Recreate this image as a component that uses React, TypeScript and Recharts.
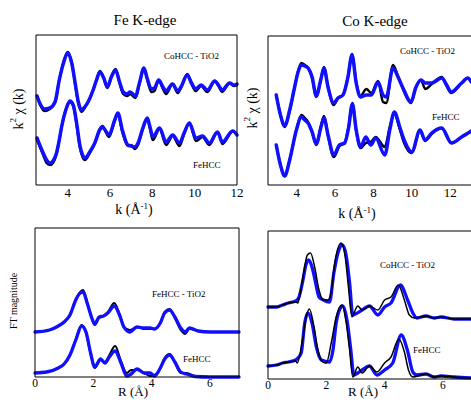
import React from "react";
import { LineChart, Line, XAxis, YAxis } from "recharts";

const FONT = "'Liberation Serif', 'Times New Roman', serif";
const BLUE = "#1010ff";

// ---- Fe K-edge, k^2 chi(k) (blue = data, black = fit)
const feTopK = [2.55, 2.7, 2.9, 3.15, 3.4, 3.6, 3.8, 4.0, 4.2, 4.35, 4.5, 4.65, 4.8, 4.96, 5.2, 5.36, 5.52, 5.7, 5.87, 6.06, 6.26, 6.45, 6.62, 6.8, 6.95, 7.2, 7.4, 7.6, 7.75, 7.95, 8.1, 8.3, 8.5, 8.65, 8.95, 9.2, 9.35, 9.65, 9.85, 10.05, 10.3, 10.6, 10.95, 11.15, 11.3, 11.65, 11.85, 12.0];
const feTopData = [8.9, 8.1, 7.6, 7.7, 8.3, 10.5, 12.2, 13.2, 12.1, 10.2, 8.3, 7.5, 7.8, 8.3, 9.5, 10.5, 11.3, 10.7, 9.8, 10.8, 11.5, 10.3, 9.3, 9.1, 9.3, 8.9, 10.3, 11.7, 10.7, 9.6, 9.7, 10.5, 9.8, 9.4, 10.1, 9.4, 9.8, 11.0, 10.2, 9.6, 10.0, 9.5, 10.4, 9.9, 9.5, 10.2, 10.0, 10.1];
const feTopFit = [8.9, 8.0, 7.4, 7.6, 8.3, 10.5, 12.3, 13.3, 12.1, 10.1, 8.2, 7.3, 7.7, 8.3, 9.5, 10.5, 11.4, 10.7, 9.7, 10.8, 11.6, 10.2, 9.1, 8.9, 9.1, 8.7, 10.2, 11.7, 10.6, 9.3, 9.4, 10.5, 9.6, 9.1, 10.1, 9.2, 9.7, 11.1, 10.1, 9.4, 9.9, 9.3, 10.4, 9.8, 9.3, 10.2, 9.9, 10.0];

const feLowK = [2.55, 2.84, 3.0, 3.16, 3.3, 3.47, 3.6, 3.71, 3.94, 4.1, 4.26, 4.42, 4.57, 4.7, 4.81, 5.04, 5.28, 5.51, 5.64, 5.8, 5.95, 6.22, 6.37, 6.58, 6.84, 7.0, 7.16, 7.32, 7.55, 7.76, 7.9, 8.02, 8.34, 8.65, 8.96, 9.28, 9.5, 9.75, 10.06, 10.37, 10.69, 11.08, 11.31, 11.8, 12.0];
const feLowData = [4.7, 3.2, 2.5, 2.2, 2.4, 3.2, 4.5, 5.8, 7.7, 8.4, 8.0, 6.2, 4.0, 3.0, 2.7, 3.3, 4.2, 5.5, 5.8, 5.4, 5.0, 6.5, 7.2, 5.5, 4.0, 3.9, 3.8, 4.2, 5.7, 6.7, 5.7, 4.8, 5.7, 4.3, 5.0, 4.2, 5.2, 6.2, 4.7, 4.9, 4.2, 5.3, 4.3, 5.4, 5.0];
const feLowFit = [4.5, 3.0, 2.2, 2.0, 2.2, 3.1, 4.5, 5.8, 7.7, 8.3, 7.9, 6.0, 3.8, 2.8, 2.5, 3.2, 4.2, 5.6, 5.9, 5.3, 4.8, 6.4, 7.1, 5.3, 3.9, 4.0, 3.6, 4.0, 5.6, 6.6, 5.5, 4.5, 5.6, 4.0, 4.9, 3.9, 5.1, 6.2, 4.4, 4.8, 4.0, 5.3, 4.1, 5.4, 5.0];

// ---- Co K-edge, k^2 chi(k)
const coTopK = [2.93, 3.15, 3.37, 3.63, 3.89, 4.07, 4.24, 4.42, 4.59, 4.8, 5.02, 5.25, 5.42, 5.63, 5.93, 6.15, 6.41, 6.67, 6.88, 7.1, 7.32, 7.63, 7.89, 8.24, 8.5, 8.67, 9.02, 9.28, 9.54, 9.96, 10.2, 10.48, 10.7, 11.04, 11.56, 11.82, 12.05, 12.6, 12.92, 13.1];
const coTopData = [9.0, 7.0, 5.9, 7.5, 9.8, 11.3, 12.0, 11.9, 11.7, 10.8, 8.9, 10.5, 11.7, 9.8, 8.2, 8.7, 9.0, 10.8, 13.0, 10.2, 8.8, 9.0, 9.0, 10.3, 9.0, 8.8, 11.7, 10.8, 9.7, 8.3, 9.7, 10.5, 10.2, 10.2, 10.7, 10.0, 9.3, 10.2, 10.7, 10.3];
const coTopFit = [9.0, 7.0, 5.8, 7.4, 9.8, 11.4, 12.2, 12.0, 11.7, 10.7, 8.8, 10.5, 11.8, 9.8, 8.0, 8.7, 9.0, 10.8, 13.1, 10.3, 8.9, 9.6, 9.2, 10.4, 8.3, 8.2, 12.0, 10.9, 9.6, 8.2, 9.7, 10.5, 9.6, 10.1, 10.8, 9.9, 9.2, 10.2, 10.7, 10.3];

const coLowK = [2.93, 3.15, 3.37, 3.63, 3.98, 4.24, 4.42, 4.59, 4.8, 5.02, 5.25, 5.42, 5.63, 5.93, 6.23, 6.5, 6.7, 6.9, 7.1, 7.33, 7.6, 7.86, 8.12, 8.59, 8.85, 9.09, 9.37, 9.6, 10.0, 10.43, 10.69, 11.04, 11.56, 12.07, 12.6, 13.1];
const coLowData = [4.0, 2.0, 0.9, 2.5, 5.5, 6.8, 6.5, 6.2, 5.3, 4.1, 5.7, 6.7, 5.0, 3.0, 4.0, 4.2, 5.7, 8.1, 5.5, 3.8, 4.8, 4.0, 4.7, 3.0, 5.5, 7.3, 5.8, 4.5, 3.3, 5.5, 4.5, 5.2, 5.7, 4.2, 4.8, 5.4];
const coLowFit = [4.0, 2.0, 0.9, 2.5, 5.5, 7.0, 6.7, 6.3, 5.3, 4.0, 5.8, 6.9, 5.0, 2.8, 3.9, 4.2, 5.8, 8.2, 5.4, 3.7, 4.2, 4.3, 4.8, 3.8, 5.8, 7.1, 5.6, 4.2, 3.2, 5.5, 4.4, 5.1, 5.7, 4.2, 4.8, 5.4];

// ---- Fe FT magnitude
const feFtTopR = [0, 0.5, 0.8, 1.0, 1.2, 1.4, 1.55, 1.65, 1.8, 1.95, 2.05, 2.2, 2.35, 2.5, 2.72, 2.9, 3.05, 3.25, 3.5, 3.75, 3.95, 4.1, 4.3, 4.45, 4.62, 4.8, 5.0, 5.15, 5.3, 5.6, 6.0, 6.5, 7.0];
const feFtTopData = [4.5, 4.7, 5.1, 5.5, 6.2, 7.7, 8.4, 8.5, 7.3, 5.9, 5.3, 6.0, 6.1, 6.4, 7.1, 6.2, 5.0, 4.5, 5.0, 4.9, 4.9, 4.8, 5.4, 6.4, 6.7, 6.0, 4.9, 4.5, 4.9, 4.6, 4.5, 4.5, 4.5];
const feFtTopFit = [4.5, 4.7, 5.1, 5.5, 6.2, 7.8, 8.5, 8.7, 7.4, 5.8, 5.2, 5.9, 6.1, 6.5, 7.4, 6.3, 5.0, 4.7, 5.0, 4.8, 4.8, 4.8, 5.4, 6.5, 6.8, 5.9, 4.7, 4.3, 4.8, 4.6, 4.5, 4.5, 4.5];

const feFtLowR = [0, 0.4, 0.8, 1.0, 1.2, 1.4, 1.6, 1.75, 1.9, 2.05, 2.25, 2.4, 2.55, 2.75, 2.95, 3.15, 3.3, 3.5, 3.75, 3.95, 4.1, 4.3, 4.45, 4.62, 4.8, 5.0, 5.2, 5.5, 6.0, 7.0];
const feFtLowData = [0.4, 0.5, 0.9, 1.3, 2.2, 3.7, 5.1, 4.5, 2.5, 1.0, 1.8, 1.4, 2.0, 2.6, 1.4, 0.1, 0.3, 0.8, 0.4, 0.4, 0.1, 0.9, 1.8, 2.2, 1.5, 0.5, 0.3, 0.05, 0, 0];
const feFtLowFit = [0.4, 0.5, 0.9, 1.3, 2.2, 3.8, 5.2, 4.4, 2.4, 0.9, 1.7, 1.5, 2.2, 3.1, 1.6, 0.4, 0.7, 0.7, 0.4, 0.1, 0.2, 0.9, 1.9, 2.3, 1.4, 0.4, 0.4, 0.1, 0, 0];

// ---- Co FT magnitude (data and fit sampled separately, they are shifted)
const coFtTopR = [0, 0.3, 0.5, 0.7, 0.95, 1.05, 1.2, 1.3, 1.39, 1.5, 1.6, 1.75, 1.9, 2.11, 2.26, 2.4, 2.55, 2.68, 2.8, 2.91, 3.0, 3.23, 3.48, 3.77, 4.0, 4.22, 4.54, 4.79, 4.97, 5.11, 5.42, 5.7, 5.94, 6.39, 7.0];
const coFtTopData = [7.2, 7.2, 7.4, 7.6, 7.8, 8.1, 9.9, 11.4, 11.9, 11.3, 10.1, 8.2, 7.9, 7.7, 10.6, 12.6, 13.4, 12.4, 9.6, 6.4, 6.5, 6.9, 7.3, 6.4, 7.2, 7.6, 9.4, 7.9, 6.6, 6.1, 6.3, 6.1, 6.2, 6.0, 6.0];
const coFtTopFitR = [0, 0.3, 0.5, 0.7, 0.95, 1.02, 1.1, 1.2, 1.35, 1.46, 1.6, 1.75, 1.9, 2.05, 2.17, 2.28, 2.51, 2.65, 2.76, 2.88, 2.95, 3.08, 3.23, 3.48, 3.77, 4.0, 4.22, 4.47, 4.68, 4.85, 5.02, 5.42, 5.7, 5.94, 6.39, 7.0];
const coFtTopFit = [7.2, 7.2, 7.4, 7.6, 7.7, 7.6, 8.5, 10.2, 12.4, 12.6, 11.2, 8.9, 7.9, 7.9, 8.7, 11.4, 13.6, 12.2, 9.2, 6.2, 6.6, 7.3, 6.9, 7.3, 6.9, 7.9, 8.2, 9.4, 7.9, 6.4, 6.1, 6.3, 6.1, 6.2, 6.0, 6.0];

const coFtLowR = [0, 0.3, 0.5, 0.7, 0.95, 1.14, 1.26, 1.37, 1.51, 1.66, 1.83, 2.11, 2.23, 2.34, 2.45, 2.57, 2.71, 2.83, 2.95, 3.08, 3.23, 3.48, 3.74, 4.0, 4.28, 4.57, 4.79, 4.97, 5.11, 5.42, 5.7, 5.94, 6.39, 7.0];
const coFtLowData = [1.3, 1.4, 1.6, 1.7, 1.9, 2.6, 5.6, 6.6, 5.6, 3.2, 1.9, 1.7, 2.9, 5.6, 6.9, 7.3, 5.9, 3.2, 0.4, 0.6, 0.9, 1.3, 0.4, 0.9, 1.6, 4.4, 2.8, 0.7, 0.4, 0.5, 0.2, 0.3, 0.2, 0.1];
const coFtLowFitR = [0, 0.3, 0.5, 0.7, 0.95, 1.0, 1.2, 1.31, 1.42, 1.58, 1.71, 1.88, 2.0, 2.17, 2.34, 2.53, 2.68, 2.8, 2.91, 3.08, 3.23, 3.48, 3.74, 4.0, 4.22, 4.49, 4.68, 4.82, 4.97, 5.42, 5.7, 5.94, 6.39, 7.0];
const coFtLowFit = [1.3, 1.4, 1.6, 1.7, 1.8, 1.6, 4.2, 6.2, 7.0, 5.2, 2.9, 1.7, 1.6, 3.6, 6.2, 7.4, 5.7, 2.9, 0.2, 1.2, 0.6, 1.3, 0.7, 1.6, 2.2, 4.0, 2.7, 0.9, 0.2, 0.5, 0.2, 0.3, 0.2, 0.1];

const kTicksFe = [4, 6, 8, 10, 12];
const kTicksCo = [4, 6, 8, 10, 12];
const rTicks = [0, 2, 4, 6];

const steps = (from: number, step: number, count: number) =>
  Array.from({ length: count }, (_, i) => +(from + i * step).toFixed(3));

const rows = (xs: number[], ys: number[]) => xs.map((x, i) => ({ x, y: ys[i] }));

type Series = { data: { x: number; y: number }[]; color: string; width: number };

function Panel(props: {
  left: number; top: number; width: number; height: number;
  xDomain: [number, number]; yDomain: [number, number];
  xTicks: number[]; xMinor: number[]; topMinor: number[]; yMinor: number[];
  fontSize: number; tickMargin: number; series: Series[];
}) {
  const m = { top: 4, right: 14, bottom: 0, left: 8 };
  const axisH = 22;
  return (
    <div style={{ position: "absolute", left: props.left - m.left, top: props.top - m.top }}>
      <LineChart width={props.width + m.left + m.right} height={props.height + m.top + axisH} margin={m}>
        <XAxis xAxisId="main" type="number" dataKey="x" domain={props.xDomain} ticks={props.xTicks}
          tickLine={false} tickSize={0} tickMargin={props.tickMargin} height={axisH}
          axisLine={{ stroke: "#000" }} interval={0}
          tick={{ fontSize: props.fontSize, fill: "#000", fontFamily: FONT }} />
        <XAxis xAxisId="minor" type="number" dataKey="x" domain={props.xDomain} allowDataOverflow
          ticks={props.xMinor} mirror tick={false} tickSize={3} axisLine={false}
          tickLine={{ stroke: "#000" }} interval={0} />
        <XAxis xAxisId="top" orientation="top" type="number" dataKey="x" domain={props.xDomain} allowDataOverflow
          ticks={props.topMinor} mirror tick={false} tickSize={3} axisLine={{ stroke: "#000" }}
          tickLine={{ stroke: "#000" }} interval={0} />
        <YAxis yAxisId="main" type="number" dataKey="y" domain={props.yDomain} ticks={props.yMinor}
          mirror tick={false} tickSize={3} axisLine={{ stroke: "#000" }} tickLine={{ stroke: "#000" }} interval={0} />
        <YAxis yAxisId="right" orientation="right" type="number" domain={props.yDomain} allowDataOverflow
          ticks={props.yMinor} mirror tick={false} tickSize={3} axisLine={{ stroke: "#000" }}
          tickLine={{ stroke: "#000" }} interval={0} />
        {props.series.map((s, i) => (
          <Line key={i} xAxisId="main" yAxisId="main" data={s.data} dataKey="y" type="monotone"
            stroke={s.color} strokeWidth={s.width} strokeLinejoin="round" strokeLinecap="round"
            dot={false} activeDot={false} isAnimationActive={false} />
        ))}
      </LineChart>
    </div>
  );
}

export default function App() {
  const t = { fontFamily: FONT, fill: "#000" };
  return (
    <div style={{ position: "fixed", left: 0, top: 0, width: 471, height: 400, overflow: "hidden", background: "#fff" }}>
      <Panel left={36} top={35} width={201} height={150} xDomain={[2.5, 12]} yDomain={[0, 15]}
        xTicks={kTicksFe} xMinor={steps(3, 0.5, 18)} topMinor={steps(3, 0.5, 18)} yMinor={steps(1.17, 1.25, 11)}
        fontSize={13} tickMargin={3}
        series={[
          { data: rows(feTopK, feTopFit), color: "#000", width: 2.5 },
          { data: rows(feLowK, feLowFit), color: "#000", width: 2.5 },
          { data: rows(feTopK, feTopData), color: BLUE, width: 3.5 },
          { data: rows(feLowK, feLowData), color: BLUE, width: 3.5 },
        ]} />
      <Panel left={268} top={36} width={204} height={149} xDomain={[2.5, 13.14]} yDomain={[0, 14.9]}
        xTicks={kTicksCo} xMinor={steps(3, 0.5, 21)} topMinor={steps(3, 0.5, 21)} yMinor={steps(0.83, 0.814, 18)}
        fontSize={13} tickMargin={3}
        series={[
          { data: rows(coTopK, coTopFit), color: "#000", width: 2.5 },
          { data: rows(coLowK, coLowFit), color: "#000", width: 2.5 },
          { data: rows(coTopK, coTopData), color: BLUE, width: 3.5 },
          { data: rows(coLowK, coLowData), color: BLUE, width: 3.5 },
        ]} />
      <Panel left={35} top={228} width={204} height={149} xDomain={[0, 7]} yDomain={[0, 14.9]}
        xTicks={rTicks} xMinor={steps(1, 1, 6)} topMinor={[]} yMinor={steps(1.4, 1.5, 9)}
        fontSize={11.5} tickMargin={2}
        series={[
          { data: rows(feFtTopR, feFtTopFit), color: "#000", width: 2 },
          { data: rows(feFtLowR, feFtLowFit), color: "#000", width: 2 },
          { data: rows(feFtTopR, feFtTopData), color: BLUE, width: 3.3 },
          { data: rows(feFtLowR, feFtLowData), color: BLUE, width: 3.3 },
        ]} />
      <Panel left={268} top={231} width={204} height={148} xDomain={[0, 7]} yDomain={[0, 14.8]}
        xTicks={rTicks} xMinor={steps(1, 1, 6)} topMinor={[]} yMinor={steps(1.4, 1.5, 9)}
        fontSize={11.5} tickMargin={2}
        series={[
          { data: rows(coFtTopR, coFtTopData), color: BLUE, width: 3.3 },
          { data: rows(coFtLowR, coFtLowData), color: BLUE, width: 3.3 },
          { data: rows(coFtTopFitR, coFtTopFit), color: "#000", width: 1.5 },
          { data: rows(coFtLowFitR, coFtLowFit), color: "#000", width: 1.5 },
        ]} />

      <svg width={471} height={400} style={{ position: "absolute", left: 0, top: 0, pointerEvents: "none" }}>
        <text {...t} x={145} y={25} fontSize={15} textAnchor="middle">Fe K-edge</text>
        <text {...t} x={375} y={26} fontSize={15} textAnchor="middle">Co K-edge</text>

        <text {...t} fontSize={14} textAnchor="middle" dominantBaseline="central" transform="translate(18,109) rotate(-90)">
          k<tspan dy={-5} fontSize={9}>2</tspan><tspan dy={5}> χ (k)</tspan>
        </text>
        <text {...t} fontSize={14} textAnchor="middle" dominantBaseline="central" transform="translate(252,108) rotate(-90)">
          k<tspan dy={-5} fontSize={9}>2</tspan><tspan dy={5}> χ (k)</tspan>
        </text>
        <text {...t} fontSize={10} textAnchor="middle" dominantBaseline="central" transform="translate(13,301) rotate(-90)">
          FT magnitude
        </text>

        <text {...t} x={134} y={214} fontSize={14} textAnchor="middle">
          k (Å<tspan dy={-5} fontSize={9}>-1</tspan><tspan dy={5}>)</tspan>
        </text>
        <text {...t} x={357} y={218} fontSize={14} textAnchor="middle">
          k (Å<tspan dy={-5} fontSize={9}>-1</tspan><tspan dy={5}>)</tspan>
        </text>
        <text {...t} x={133} y={396} fontSize={13} textAnchor="middle">R (Å)</text>
        <text {...t} x={363} y={396} fontSize={13} textAnchor="middle">R (Å)</text>

        <text {...t} x={164} y={59} fontSize={9}>CoHCC - TiO2</text>
        <text {...t} x={193} y={168} fontSize={9}>FeHCC</text>
        <text {...t} x={400} y={54} fontSize={9}>CoHCC - TiO2</text>
        <text {...t} x={432} y={120} fontSize={9}>FeHCC</text>
        <text {...t} x={152} y={297} fontSize={9}>FeHCC - TiO2</text>
        <text {...t} x={183} y={362} fontSize={9}>FeHCC</text>
        <text {...t} x={380} y={268} fontSize={9}>CoHCC - TiO2</text>
        <text {...t} x={413} y={353} fontSize={9}>FeHCC</text>
      </svg>
    </div>
  );
}
